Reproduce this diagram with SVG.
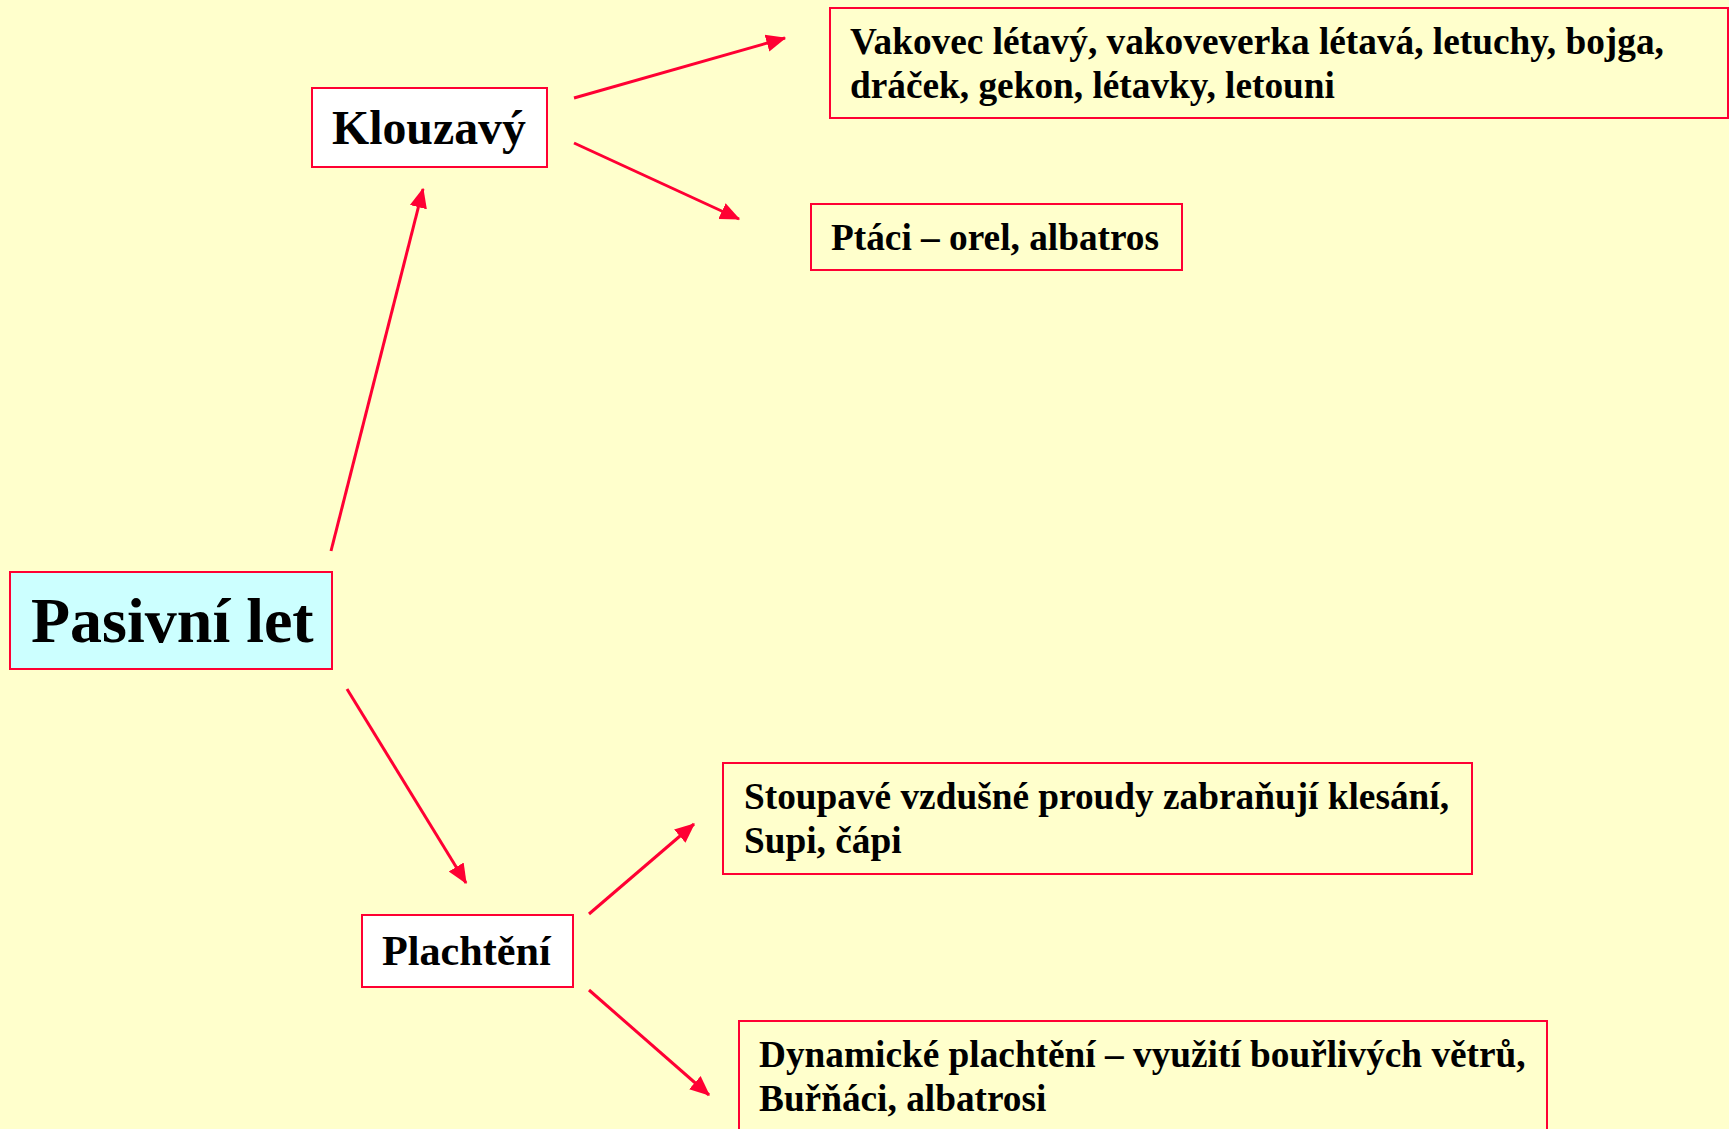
<svg xmlns="http://www.w3.org/2000/svg" width="1729" height="1129" viewBox="0 0 1729 1129">
<style>
.box{stroke:#FF0033;stroke-width:2}
.t{font-family:"Liberation Serif","Times New Roman",serif;font-weight:bold;fill:#000}
.s{font-size:37.3px}
.c{stroke:#FF0033;stroke-width:3;fill:none}
</style>
<defs>
<marker id="ah" markerUnits="userSpaceOnUse" markerWidth="20" markerHeight="20" viewBox="0 0 16 16" refX="15" refY="8" orient="auto">
<path d="M0,1 L16,8 L0,15 Z" fill="#FF0033"/>
</marker>
</defs>
<rect width="1729" height="1129" fill="#FFFFCC"/>
<g id="connectors">
<line class="c" x1="331" y1="551" x2="423" y2="189" marker-end="url(#ah)"/>
<line class="c" x1="347" y1="689" x2="466" y2="883" marker-end="url(#ah)"/>
<line class="c" x1="574" y1="98" x2="785" y2="38" marker-end="url(#ah)"/>
<line class="c" x1="574" y1="143" x2="739" y2="219" marker-end="url(#ah)"/>
<line class="c" x1="589" y1="914" x2="694" y2="824" marker-end="url(#ah)"/>
<line class="c" x1="589" y1="990" x2="709" y2="1095" marker-end="url(#ah)"/>
</g>
<g id="pasivni">
<rect class="box" x="10" y="572" width="322" height="97" fill="#CCFFFF"/>
<text class="t" x="31" y="642" font-size="64">Pasivní let</text>
</g>
<g id="klouzavy">
<rect class="box" x="312" y="88" width="235" height="79" fill="#FFFFFF"/>
<text class="t" x="332" y="144" font-size="47.8">Klouzavý</text>
</g>
<g id="plachteni">
<rect class="box" x="362" y="915" width="211" height="72" fill="#FFFFFF"/>
<text class="t" x="382" y="965" font-size="42.2">Plachtění</text>
</g>
<g id="vakovec">
<rect class="box" x="830" y="8" width="898" height="110" fill="#FFFFCC"/>
<text class="t s" x="850" y="54">Vakovec létavý, vakoveverka létavá, letuchy, bojga,</text>
<text class="t s" x="850" y="98">dráček, gekon, létavky, letouni</text>
</g>
<g id="ptaci">
<rect class="box" x="811" y="204" width="371" height="66" fill="#FFFFCC"/>
<text class="t s" x="831" y="250">Ptáci – orel, albatros</text>
</g>
<g id="stoupave">
<rect class="box" x="723" y="763" width="749" height="111" fill="#FFFFCC"/>
<text class="t s" x="744" y="809">Stoupavé vzdušné proudy zabraňují klesání,</text>
<text class="t s" x="744" y="853">Supi, čápi</text>
</g>
<g id="dynamicke">
<rect class="box" x="739" y="1021" width="808" height="120" fill="#FFFFCC"/>
<text class="t s" x="759" y="1067">Dynamické plachtění – využití bouřlivých větrů,</text>
<text class="t s" x="759" y="1111">Buřňáci, albatrosi</text>
</g>
</svg>
